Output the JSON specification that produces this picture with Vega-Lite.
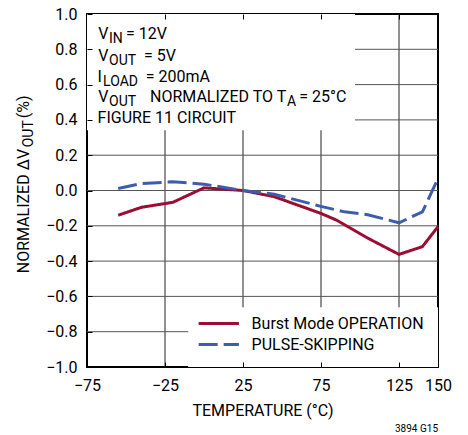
{
  "$schema": "https://vega.github.io/schema/vega-lite/v6.json",
  "width": 351,
  "height": 353,
  "autosize": {"type": "none"},
  "padding": {"left": 87, "top": 14, "right": 30, "bottom": 68},
  "background": "white",
  "config": {
    "view": {"stroke": "black", "strokeWidth": 2},
    "font": "Roboto",
    "axis": {"labelFont": "Roboto", "titleFont": "Roboto", "labelColor": "black", "titleColor": "black", "tickColor": "black"},
    "legend": {"orient": "none", "legendX": 123.3, "legendY": 301, "title": null, "labelFontSize": 16, "labelFont": "Roboto", "labelColor": "black", "labelLimit": 400, "symbolType": "M-3,0H3", "symbolSize": 180, "symbolStrokeWidth": 3, "labelOffset": 24.3, "rowPadding": 4, "padding": 0}
  },
  "datasets": {
    "vgrid": [{"gx": -25}, {"gx": 25}, {"gx": 75}, {"gx": 125}],
    "hgrid": [{"gy": -0.8}, {"gy": -0.6}, {"gy": -0.4}, {"gy": -0.2}, {"gy": 0}, {"gy": 0.2}, {"gy": 0.4}, {"gy": 0.6}, {"gy": 0.8}],
    "boxes": [
      {"x1": -75, "x2": 96.8, "y1": 0.341, "y2": 1.0},
      {"x1": -10.1, "x2": 150, "y1": -1.0, "y2": -0.661}
    ],
    "curves": [
      {"temp": -55, "value": -0.14, "mode": "Burst Mode OPERATION"},
      {"temp": -40, "value": -0.095, "mode": "Burst Mode OPERATION"},
      {"temp": -20, "value": -0.067, "mode": "Burst Mode OPERATION"},
      {"temp": 0, "value": 0.015, "mode": "Burst Mode OPERATION"},
      {"temp": 25, "value": 0, "mode": "Burst Mode OPERATION"},
      {"temp": 45, "value": -0.035, "mode": "Burst Mode OPERATION"},
      {"temp": 75, "value": -0.13, "mode": "Burst Mode OPERATION"},
      {"temp": 85, "value": -0.168, "mode": "Burst Mode OPERATION"},
      {"temp": 105, "value": -0.27, "mode": "Burst Mode OPERATION"},
      {"temp": 125, "value": -0.362, "mode": "Burst Mode OPERATION"},
      {"temp": 140, "value": -0.318, "mode": "Burst Mode OPERATION"},
      {"temp": 150, "value": -0.205, "mode": "Burst Mode OPERATION"},
      {"temp": -55, "value": 0.011, "mode": "PULSE-SKIPPING"},
      {"temp": -40, "value": 0.04, "mode": "PULSE-SKIPPING"},
      {"temp": -20, "value": 0.049, "mode": "PULSE-SKIPPING"},
      {"temp": 0, "value": 0.036, "mode": "PULSE-SKIPPING"},
      {"temp": 25, "value": 0, "mode": "PULSE-SKIPPING"},
      {"temp": 45, "value": -0.021, "mode": "PULSE-SKIPPING"},
      {"temp": 75, "value": -0.09, "mode": "PULSE-SKIPPING"},
      {"temp": 90, "value": -0.121, "mode": "PULSE-SKIPPING"},
      {"temp": 105, "value": -0.137, "mode": "PULSE-SKIPPING"},
      {"temp": 125, "value": -0.183, "mode": "PULSE-SKIPPING"},
      {"temp": 140, "value": -0.121, "mode": "PULSE-SKIPPING"},
      {"temp": 150, "value": 0.068, "mode": "PULSE-SKIPPING"}
    ],
    "mainText": [
      {"tx": -67.8, "ty": 0.857, "text": "V"},
      {"tx": -50.0, "ty": 0.857, "text": "= 12V"},
      {"tx": -67.8, "ty": 0.735, "text": "V"},
      {"tx": -38.5, "ty": 0.735, "text": "= 5V"},
      {"tx": -68.2, "ty": 0.616, "text": "I"},
      {"tx": -37.3, "ty": 0.616, "text": "= 200mA"},
      {"tx": -67.8, "ty": 0.5, "text": "V"},
      {"tx": -34.6, "ty": 0.5, "text": "NORMALIZED TO T"},
      {"tx": 61.1, "ty": 0.5, "text": "= 25°C"},
      {"tx": -68.2, "ty": 0.384, "text": "FIGURE 11 CIRCUIT"}
    ],
    "subText": [
      {"tx": -60.9, "ty": 0.835, "text": "IN"},
      {"tx": -60.9, "ty": 0.713, "text": "OUT"},
      {"tx": -64.7, "ty": 0.594, "text": "LOAD"},
      {"tx": -60.9, "ty": 0.478, "text": "OUT"},
      {"tx": 53.2, "ty": 0.478, "text": "A"}
    ],
    "yTitleMain": [
      {"tx": -112, "ty": -0.469, "text": "NORMALIZED ΔV"},
      {"tx": -112, "ty": 0.409, "text": "(%)"}
    ],
    "yTitleSub": [
      {"tx": -109.8, "ty": 0.245, "text": "OUT"}
    ],
    "note": [{"tx": 150, "ty": -1.366, "text": "3894 G15"}]
  },
  "resolve": {"axis": {"x": "independent", "y": "independent"}},
  "layer": [
    {
      "data": {"name": "vgrid"},
      "mark": {"type": "rule", "color": "#222", "strokeWidth": 1},
      "encoding": {
        "x": {"field": "gx", "type": "quantitative", "scale": {"domain": [-75, 150], "nice": false, "zero": false},
          "axis": {"orient": "top", "values": [-25, 25, 75, 125], "labels": false, "tickSize": -5, "tickWidth": 1, "domain": false, "grid": false, "title": null, "zindex": 1}}
      }
    },
    {
      "data": {"name": "hgrid"},
      "mark": {"type": "rule", "color": "#555", "strokeWidth": 1},
      "encoding": {
        "y": {"field": "gy", "type": "quantitative", "scale": {"domain": [-1, 1], "nice": false, "zero": false}, "axis": null}
      }
    },
    {
      "data": {"name": "boxes"},
      "mark": {"type": "rect", "fill": "white", "stroke": null},
      "encoding": {
        "x": {"field": "x1", "type": "quantitative", "axis": null},
        "x2": {"field": "x2"},
        "y": {"field": "y1", "type": "quantitative", "axis": null},
        "y2": {"field": "y2"}
      }
    },
    {
      "data": {"name": "curves"},
      "mark": {"type": "line", "strokeWidth": 3},
      "encoding": {
        "x": {"field": "temp", "type": "quantitative",
          "axis": {"orient": "bottom", "values": [-75, -25, 25, 75, 125, 150], "labelFontSize": 16, "labelFlush": false, "labelOverlap": false, "labelBound": false, "tickSize": -5, "tickWidth": 1, "labelPadding": 15, "domain": false, "grid": false, "title": "TEMPERATURE (°C)", "titleFontSize": 16, "titleFontWeight": "normal", "titlePadding": 9, "zindex": 1}},
        "y": {"field": "value", "type": "quantitative",
          "axis": {"orient": "left", "values": [-1, -0.8, -0.6, -0.4, -0.2, 0, 0.2, 0.4, 0.6, 0.8, 1], "format": ".1f", "labelFontSize": 16, "tickSize": -5, "tickWidth": 1, "labelPadding": 15, "domain": false, "grid": false, "title": null, "zindex": 1}},
        "color": {"field": "mode", "type": "nominal",
          "scale": {"domain": ["Burst Mode OPERATION", "PULSE-SKIPPING"], "range": ["#9c0c33", "#3d5dab"]}},
        "strokeDash": {"field": "mode", "type": "nominal",
          "scale": {"domain": ["Burst Mode OPERATION", "PULSE-SKIPPING"], "range": [[1, 0], [19, 6]]}}
      }
    },
    {
      "data": {"name": "mainText"},
      "mark": {"type": "text", "align": "left", "baseline": "alphabetic", "fontSize": 16, "font": "Roboto", "color": "black"},
      "encoding": {
        "x": {"field": "tx", "type": "quantitative", "axis": null},
        "y": {"field": "ty", "type": "quantitative", "axis": null},
        "text": {"field": "text"}
      }
    },
    {
      "data": {"name": "subText"},
      "mark": {"type": "text", "align": "left", "baseline": "alphabetic", "fontSize": 14, "font": "Roboto", "color": "black"},
      "encoding": {
        "x": {"field": "tx", "type": "quantitative", "axis": null},
        "y": {"field": "ty", "type": "quantitative", "axis": null},
        "text": {"field": "text"}
      }
    },
    {
      "data": {"name": "yTitleMain"},
      "mark": {"type": "text", "align": "left", "baseline": "alphabetic", "angle": 270, "fontSize": 16, "font": "Roboto", "color": "black"},
      "encoding": {
        "x": {"field": "tx", "type": "quantitative", "axis": null},
        "y": {"field": "ty", "type": "quantitative", "axis": null},
        "text": {"field": "text"}
      }
    },
    {
      "data": {"name": "yTitleSub"},
      "mark": {"type": "text", "align": "left", "baseline": "alphabetic", "angle": 270, "fontSize": 14, "font": "Roboto", "color": "black"},
      "encoding": {
        "x": {"field": "tx", "type": "quantitative", "axis": null},
        "y": {"field": "ty", "type": "quantitative", "axis": null},
        "text": {"field": "text"}
      }
    },
    {
      "data": {"name": "note"},
      "mark": {"type": "text", "align": "right", "baseline": "alphabetic", "fontSize": 10, "font": "Roboto", "color": "black"},
      "encoding": {
        "x": {"field": "tx", "type": "quantitative", "axis": null},
        "y": {"field": "ty", "type": "quantitative", "axis": null},
        "text": {"field": "text"}
      }
    }
  ]
}
